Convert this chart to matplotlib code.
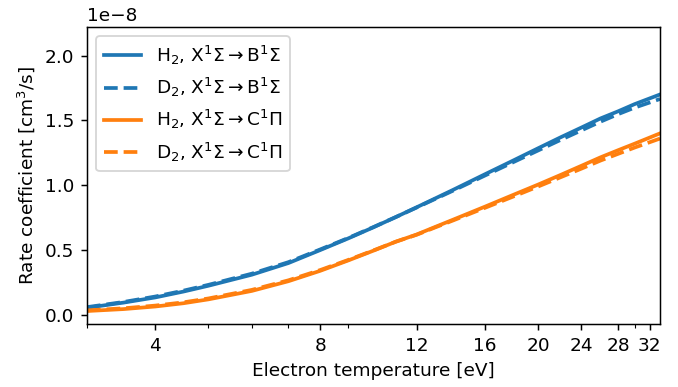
import numpy as np
import matplotlib
matplotlib.use('Agg')
import matplotlib.pyplot as plt
from matplotlib import ticker

# electron temperature [eV]
temp = [3.0, 3.5, 4, 4.5, 5, 6, 7, 8, 9, 10, 11, 12, 13, 14, 16, 18, 20, 22, 24, 26, 28, 30, 33.4]

# rate coefficients, units of 1e-8 cm^3/s
h2_b = [0.055, 0.095, 0.135, 0.18, 0.225, 0.31, 0.40, 0.50, 0.59, 0.675, 0.755, 0.83, 0.90, 0.965,
        1.085, 1.19, 1.285, 1.37, 1.445, 1.515, 1.57, 1.625, 1.70]
d2_b = [0.06, 0.10, 0.142, 0.187, 0.232, 0.318, 0.407, 0.505, 0.593, 0.677, 0.755, 0.828, 0.896, 0.959,
        1.075, 1.177, 1.268, 1.35, 1.423, 1.49, 1.548, 1.598, 1.665]
h2_c = [0.03, 0.045, 0.065, 0.09, 0.12, 0.185, 0.26, 0.34, 0.42, 0.495, 0.565, 0.62, 0.68, 0.735,
        0.835, 0.925, 1.005, 1.08, 1.15, 1.215, 1.27, 1.32, 1.40]
d2_c = [0.035, 0.051, 0.072, 0.097, 0.127, 0.193, 0.267, 0.346, 0.424, 0.497, 0.565, 0.618, 0.676, 0.729,
        0.826, 0.912, 0.99, 1.062, 1.128, 1.19, 1.242, 1.29, 1.36]

xticks = [4, 8, 12, 16, 20, 24, 28, 32]

labels = [r'H$_2$, X$^1\Sigma\rightarrow$B$^1\Sigma$',
          r'D$_2$, X$^1\Sigma\rightarrow$B$^1\Sigma$',
          r'H$_2$, X$^1\Sigma\rightarrow$C$^1\Pi$',
          r'D$_2$, X$^1\Sigma\rightarrow$C$^1\Pi$']

fig = plt.figure(figsize=(678 / 133.33, 387 / 133.33), dpi=133.33)
ax = fig.add_axes([0.1283, 0.1628, 0.8452, 0.7674])

t = np.array(temp)
lw = 2.0
ax.plot(t, np.array(h2_b) * 1e-8, color='C0', ls='-', lw=lw, label=labels[0])
ax.plot(t, np.array(d2_b) * 1e-8, color='C0', ls='--', lw=lw, label=labels[1])
ax.plot(t, np.array(h2_c) * 1e-8, color='C1', ls='-', lw=lw, label=labels[2])
ax.plot(t, np.array(d2_c) * 1e-8, color='C1', ls='--', lw=lw, label=labels[3])

ax.set_xscale('log')
ax.set_xticks(xticks)
ax.set_xticklabels([str(v) for v in xticks])
ax.xaxis.set_minor_formatter(ticker.NullFormatter())
ax.set_xlim(3.0, 33.4)
ax.set_ylim(-0.07e-8, 2.22e-8)
ax.set_yticks([0, 0.5e-8, 1.0e-8, 1.5e-8, 2.0e-8])

ax.set_xlabel('Electron temperature [eV]')
ax.set_ylabel('Rate coefficient [cm$^3$/s]')
ax.legend(loc='upper left')

fig.savefig('out.png', dpi=133.33)
